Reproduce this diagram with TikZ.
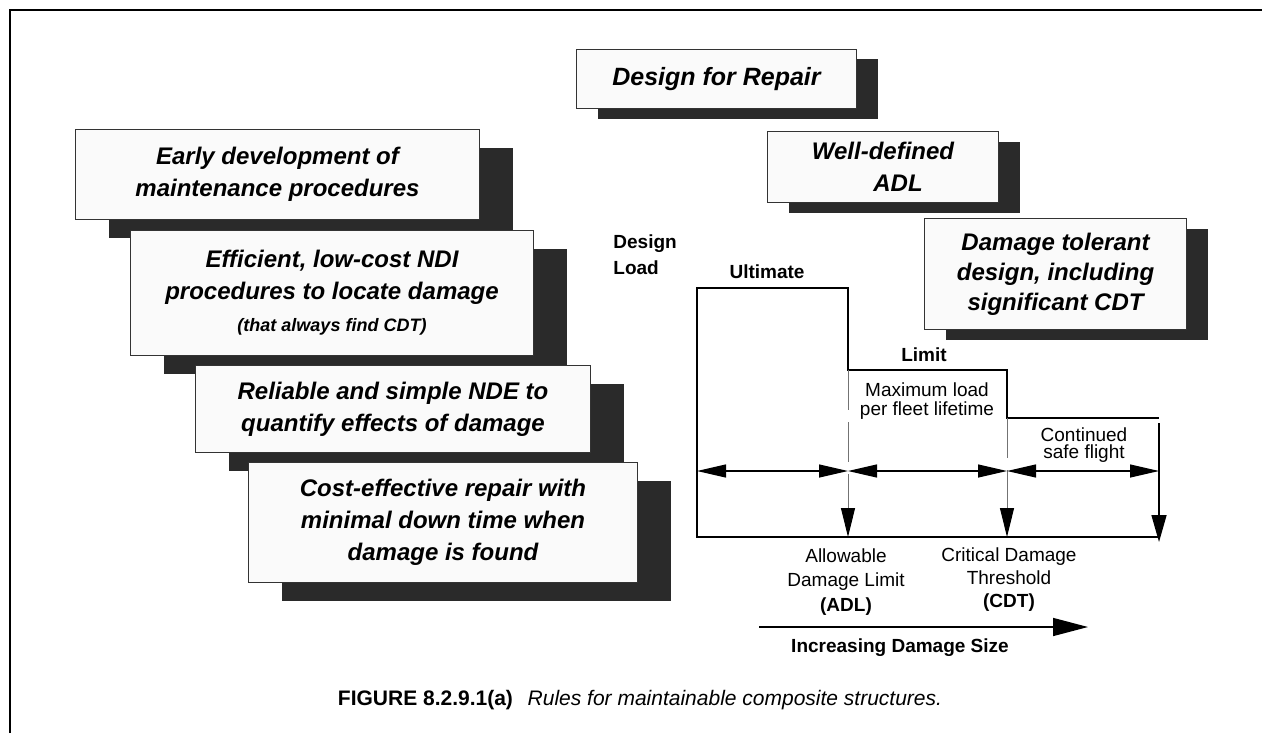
\documentclass[tikz,border=0pt]{standalone}
\usepackage{fontspec}
\setmainfont{Liberation Sans}
\usetikzlibrary{arrows.meta, shadows}

\definecolor{shade}{HTML}{2A2A2A}
\definecolor{paper}{HTML}{FAFAFA}

\tikzset{
    rulebox/.style={draw=black!80, fill=paper, line width=0.5pt, inner sep=0pt, anchor=north west, align=center, font=\fontsize{12}{16}\selectfont\bfseries\itshape},
    leftbox/.style={rulebox, drop shadow={shadow xshift=16.5pt, shadow yshift=-9pt, fill=shade, opacity=1}},
    rightbox/.style={rulebox, drop shadow={shadow xshift=10.5pt, shadow yshift=-5pt, fill=shade, opacity=1}},
    lbl/.style={inner sep=0pt, align=center, font=\fontsize{9.5}{12}\selectfont},
    blbl/.style={lbl, font=\fontsize{9.5}{12}\selectfont\bfseries},
    span/.style={line width=0.6pt, {Triangle[length=14.5pt,width=6.5pt]}-{Triangle[length=14.5pt,width=6.5pt]}},
    dropline/.style={line width=0.5pt, draw=black!55, dash pattern=on 20pt off 6pt, -{Triangle[length=14.5pt,width=7pt,color=black]}}
}

\begin{document}
\begin{tikzpicture}[x=0.5pt, y=-0.5pt]
    \useasboundingbox (0,0) rectangle (1262,733);
    \draw[line width=1.3pt] (10,733) -- (10,10) -- (1262,10);

    \node[leftbox, minimum width=202pt, minimum height=45pt] (early) at (75,129) {Early development of\\maintenance procedures};
    \node[leftbox, minimum width=201.5pt, minimum height=62.5pt] (ndi) at (130,230) {Efficient, low-cost NDI\\procedures to locate damage\\{\fontsize{9}{16}\selectfont (that always find CDT)}};
    \node[leftbox, minimum width=197.5pt, minimum height=43.5pt] (nde) at (195,365) {Reliable and simple NDE to\\quantify effects of damage};
    \node[leftbox, minimum width=194.5pt, minimum height=60pt] (fix) at (248,462) {Cost-effective repair with\\minimal down time when\\damage is found};

    \node[rightbox, minimum width=140pt, minimum height=29.5pt, font=\fontsize{12.5}{16}\selectfont\bfseries\itshape] (repair) at (576,49) {Design for Repair};
    \node[rightbox, minimum width=115.5pt, minimum height=35.5pt] (welldef) at (767,131) {Well-defined\\\hspace*{15pt}ADL};
    \node[rightbox, minimum width=131pt, minimum height=55.5pt, font=\fontsize{12}{15}\selectfont\bfseries\itshape] (tolerant) at (924,218) {Damage tolerant\\design, including\\significant CDT};

    \coordinate (o) at (697,537);
    \coordinate (ut) at (697,288);
    \coordinate (ue) at (848,288);
    \coordinate (ls) at (848,370);
    \coordinate (le) at (1007,370);
    \coordinate (cs) at (1007,418);
    \coordinate (ce) at (1159,418);
    \coordinate (end) at (1159,537);
    \coordinate (adl) at (848,537);
    \coordinate (cdt) at (1007,537);
    \coordinate (top) at (1159,423);
    \coordinate (tip) at (1159,542);
    \coordinate (a0) at (697,471);
    \coordinate (a1) at (848,471);
    \coordinate (a2) at (1007,471);
    \coordinate (a3) at (1159,471);
    \coordinate (gs) at (759,627);
    \coordinate (ge) at (1088,627);

    \draw[line width=0.75pt] (end) -- (o) -- (ut) -- (ue) -- (ls) -- (le) -- (cs) -- (ce);
    \draw[dropline] (ls) -- (adl);
    \draw[dropline] (cs) -- (cdt);
    \draw[line width=0.75pt, -{Triangle[length=13.5pt,width=7.5pt]}] (top) -- (tip);
    \foreach \p/\q in {a0/a1, a1/a2, a2/a3}
        \draw[span] (\p) -- (\q);
    \draw[line width=0.75pt, -{Triangle[length=17.5pt,width=9pt]}] (gs) -- (ge);

    \node[blbl, align=left, anchor=west, font=\fontsize{9.5}{13}\selectfont\bfseries] (dload) at (613,255) {Design\\Load};
    \node[blbl] (ult) at (767,272) {Ultimate};
    \node[blbl] (lim) at (924,355) {Limit};
    \node[lbl, font=\fontsize{9.5}{9.2}\selectfont] (maxl) at (927,401) {Maximum load\\per fleet lifetime};
    \node[lbl, font=\fontsize{9.5}{8.7}\selectfont] (cont) at (1084,445) {Continued\\safe flight};
    \node[lbl, font=\fontsize{9.5}{12.25}\selectfont] (adltxt) at (846,582) {Allowable\\Damage Limit\\\textbf{(ADL)}};
    \node[lbl, font=\fontsize{9.5}{11.5}\selectfont] (cdttxt) at (1009,580) {Critical Damage\\Threshold\\\textbf{(CDT)}};
    \node[blbl] (incr) at (900,648) {Increasing Damage Size};
    \node[inner sep=0pt, font=\fontsize{10.5}{12}\selectfont] (caption) at (640,700) {\textbf{FIGURE 8.2.9.1(a)}\hspace{0.7em}\textit{Rules for maintainable composite structures.}};
\end{tikzpicture}
\end{document}
